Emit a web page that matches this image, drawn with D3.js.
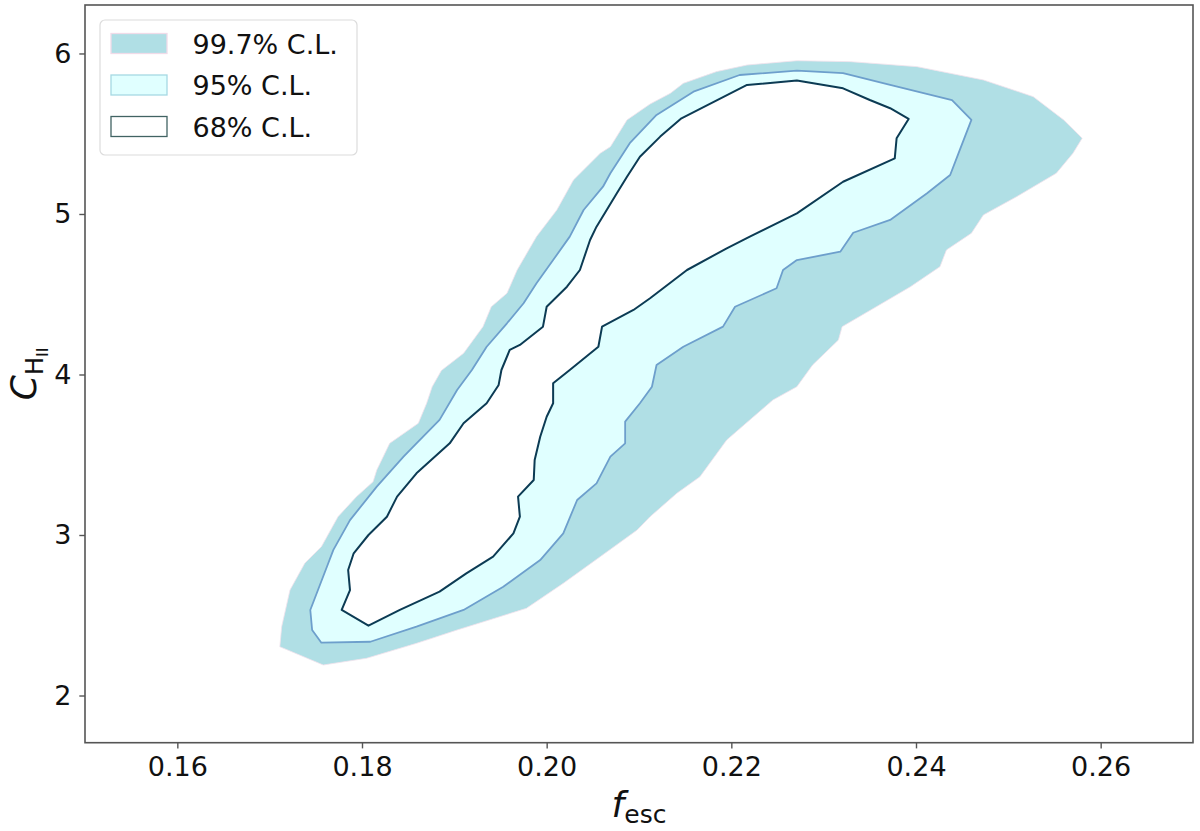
<!DOCTYPE html>
<html>
<head>
<meta charset="utf-8">
<script src="https://cdn.jsdelivr.net/npm/d3@7"></script>
<style>
    body { margin: 0; background: #ffffff; }
    svg text { font-family: "DejaVu Sans", sans-serif; }
</style>
</head>
<body>
<div id="chart"></div>
<script>

/* Data -------------------------------------------------------------------- */

// Axis ticks
const xTicks = [0.16, 0.18, 0.20, 0.22, 0.24, 0.26];
const yTicks = [2, 3, 4, 5, 6];

// Legend labels, outer to inner
const levelLabels = ["99.7% C.L.", "95% C.L.", "68% C.L."];

// 99.7% contour, [f_esc, C_HII]
const cl997 = [
    [0.1711, 2.304], [0.1713, 2.429], [0.1722, 2.657], [0.1738, 2.824],
    [0.1756, 2.927], [0.1774, 3.114], [0.1794, 3.239], [0.1812, 3.332],
    [0.1816, 3.405], [0.1830, 3.571], [0.1848, 3.644], [0.1861, 3.696],
    [0.1870, 3.821], [0.1876, 3.924], [0.1886, 4.025], [0.1910, 4.132],
    [0.1931, 4.298], [0.1940, 4.422], [0.1957, 4.506], [0.1968, 4.651],
    [0.1989, 4.859], [0.2011, 5.025], [0.2029, 5.212], [0.2058, 5.378],
    [0.2069, 5.419], [0.2087, 5.586], [0.2112, 5.685], [0.2134, 5.752],
    [0.2148, 5.814], [0.2184, 5.887], [0.2217, 5.928], [0.2271, 5.955],
    [0.2329, 5.949], [0.2401, 5.918], [0.2473, 5.835], [0.2527, 5.731],
    [0.2560, 5.586], [0.2580, 5.472], [0.2570, 5.378], [0.2552, 5.254],
    [0.2509, 5.108], [0.2473, 4.994], [0.2460, 4.880], [0.2433, 4.776],
    [0.2426, 4.672], [0.2394, 4.547], [0.2357, 4.422], [0.2320, 4.298],
    [0.2316, 4.215], [0.2288, 4.059], [0.2271, 3.924], [0.2245, 3.841],
    [0.2220, 3.717], [0.2195, 3.592], [0.2166, 3.363], [0.2141, 3.260],
    [0.2112, 3.114], [0.2098, 3.031], [0.2058, 2.865], [0.2018, 2.699],
    [0.1978, 2.543], [0.1903, 2.408], [0.1859, 2.325], [0.1805, 2.232],
    [0.1758, 2.190]
];

// 95% contour
const cl95 = [
    [0.1744, 2.533], [0.1762, 2.802], [0.1769, 2.907], [0.1787, 3.093],
    [0.1816, 3.301], [0.1845, 3.488], [0.1859, 3.571], [0.1884, 3.717],
    [0.1903, 3.903], [0.1919, 4.028], [0.1935, 4.173], [0.1957, 4.319],
    [0.1975, 4.444], [0.1989, 4.568], [0.2007, 4.713], [0.2025, 4.859],
    [0.2040, 5.025], [0.2061, 5.170], [0.2069, 5.254], [0.2090, 5.441],
    [0.2119, 5.617], [0.2159, 5.762], [0.2209, 5.866], [0.2271, 5.893],
    [0.2321, 5.877], [0.2372, 5.804], [0.2439, 5.710], [0.2460, 5.586],
    [0.2446, 5.378], [0.2437, 5.243], [0.2412, 5.129], [0.2372, 4.963],
    [0.2332, 4.883], [0.2318, 4.765], [0.2271, 4.713], [0.2256, 4.651],
    [0.2249, 4.537], [0.2204, 4.422], [0.2191, 4.298], [0.2148, 4.173],
    [0.2119, 4.059], [0.2114, 3.924], [0.2101, 3.821], [0.2085, 3.706],
    [0.2085, 3.571], [0.2069, 3.488], [0.2054, 3.322], [0.2033, 3.218],
    [0.2018, 3.010], [0.1993, 2.844], [0.1953, 2.678], [0.1910, 2.533],
    [0.1859, 2.429], [0.1809, 2.335], [0.1756, 2.329], [0.1746, 2.408]
];

// 68% contour
const cl68 = [
    [0.1778, 2.533], [0.1787, 2.657], [0.1785, 2.782], [0.1791, 2.886],
    [0.1807, 3.000], [0.1827, 3.114], [0.1838, 3.239], [0.1859, 3.384],
    [0.1895, 3.571], [0.1910, 3.696], [0.1935, 3.821], [0.1948, 3.935],
    [0.1951, 4.028], [0.1960, 4.153], [0.1971, 4.184], [0.1996, 4.298],
    [0.2000, 4.422], [0.2022, 4.547], [0.2036, 4.651], [0.2047, 4.838],
    [0.2054, 4.921], [0.2076, 5.129], [0.2087, 5.232], [0.2101, 5.357],
    [0.2123, 5.482], [0.2146, 5.596], [0.2217, 5.804], [0.2271, 5.831],
    [0.2321, 5.783], [0.2350, 5.710], [0.2372, 5.659], [0.2392, 5.592],
    [0.2379, 5.472], [0.2377, 5.347], [0.2321, 5.201], [0.2271, 5.004],
    [0.2220, 4.859], [0.2195, 4.786], [0.2152, 4.651], [0.2112, 4.475],
    [0.2094, 4.402], [0.2060, 4.298], [0.2056, 4.173], [0.2025, 4.028],
    [0.2007, 3.945], [0.2007, 3.821], [0.2000, 3.737], [0.1993, 3.612],
    [0.1987, 3.467], [0.1986, 3.343], [0.1969, 3.239], [0.1971, 3.114],
    [0.1964, 3.010], [0.1942, 2.865], [0.1913, 2.761], [0.1884, 2.647],
    [0.1841, 2.533], [0.1807, 2.435]
];

/* Settings ---------------------------------------------------------------- */

const settings = {
    width: 1200,
    height: 831,
    margin: { top: 5, right: 7, bottom: 88.3, left: 85 },
    xDomain: [0.15, 0.27],
    yDomain: [1.706, 6.302],
    tickSize: 27,
    labelSize: 36
};

const colors = {
    fill997: "#b0dfe5",
    fill95: "#e0ffff",
    line95: "#6d9fcc",
    line68: "#0c3b54",
    spine: "#555555",
    text: "#111111"
};

/* Draw graphic ------------------------------------------------------------ */

function drawGraphic() {

    const margin = settings.margin;
    const width = settings.width - margin.left - margin.right;
    const height = settings.height - margin.top - margin.bottom;

    const xScale = d3.scaleLinear()
        .domain(settings.xDomain)
        .range([0, width]);

    const yScale = d3.scaleLinear()
        .domain(settings.yDomain)
        .range([height, 0]);

    const svg = d3.select("#chart")
        .append("svg")
        .attr("width", settings.width)
        .attr("height", settings.height);

    svg.append("rect")
        .attr("width", settings.width)
        .attr("height", settings.height)
        .attr("fill", "#ffffff");

    const canvas = svg.append("g")
        .attr("transform", `translate(${margin.left},${margin.top})`);

    const contour = d3.line()
        .x(d => xScale(d[0]))
        .y(d => yScale(d[1]))
        .curve(d3.curveLinearClosed);

    // Contours, outer to inner
    canvas.append("path")
        .attr("d", contour(cl997))
        .attr("fill", colors.fill997)
        .attr("stroke", "#f1e2ec")
        .attr("stroke-width", 0.8);

    canvas.append("path")
        .attr("d", contour(cl95))
        .attr("fill", colors.fill95)
        .attr("stroke", colors.line95)
        .attr("stroke-width", 1.8)
        .attr("stroke-linejoin", "round");

    canvas.append("path")
        .attr("d", contour(cl68))
        .attr("fill", "#ffffff")
        .attr("stroke", colors.line68)
        .attr("stroke-width", 2)
        .attr("stroke-linejoin", "round");

    // Frame
    canvas.append("rect")
        .attr("width", width)
        .attr("height", height)
        .attr("fill", "none")
        .attr("stroke", colors.spine)
        .attr("stroke-width", 1.6);

    // X-axis
    const xAxis = canvas.append("g")
        .attr("class", "xaxis")
        .attr("transform", `translate(0,${height})`)
        .call(d3.axisBottom(xScale)
            .tickValues(xTicks)
            .tickFormat(d3.format(".2f"))
            .tickSize(5.7)
            .tickPadding(8));

    // Y-axis
    const yAxis = canvas.append("g")
        .attr("class", "yaxis")
        .call(d3.axisLeft(yScale)
            .tickValues(yTicks)
            .tickFormat(d3.format("d"))
            .tickSize(5.7)
            .tickPadding(8));

    for (const axis of [xAxis, yAxis]) {
        axis.select(".domain").remove();
        axis.selectAll("line")
            .attr("stroke", colors.spine)
            .attr("stroke-width", 1.4);
        axis.selectAll("text")
            .attr("fill", colors.text)
            .style("font-family", "DejaVu Sans")
            .style("font-size", `${settings.tickSize}px`);
    }

    // X-axis title: f_esc
    const xTitle = svg.append("text")
        .attr("x", margin.left + width / 2)
        .attr("y", 817)
        .attr("text-anchor", "middle")
        .attr("fill", colors.text)
        .style("font-size", `${settings.labelSize}px`);
    xTitle.append("tspan")
        .style("font-style", "italic")
        .text("f");
    xTitle.append("tspan")
        .attr("dy", 6)
        .style("font-size", "25px")
        .text("esc");

    // Y-axis title: C_{H_II}
    const yTitle = svg.append("text")
        .attr("transform", `translate(36,${margin.top + height / 2}) rotate(-90)`)
        .attr("text-anchor", "middle")
        .attr("fill", colors.text)
        .style("font-size", `${settings.labelSize}px`);
    yTitle.append("tspan")
        .style("font-style", "italic")
        .text("C");
    yTitle.append("tspan")
        .attr("dy", 7)
        .style("font-size", "24px")
        .text("H");
    yTitle.append("tspan")
        .attr("dy", 5)
        .style("font-size", "16px")
        .text("II");

    // Legend
    const legend = svg.append("g")
        .attr("transform", "translate(100,20)");

    legend.append("rect")
        .attr("width", 257)
        .attr("height", 135)
        .attr("rx", 5)
        .attr("fill", "#ffffff")
        .attr("fill-opacity", 0.85)
        .attr("stroke", "#dcdcdc")
        .attr("stroke-width", 1.2);

    const legendFill = ["#b0dfe5", "#e0ffff", "#ffffff"];
    const legendEdge = ["#f0dbe8", "#a6d9e3", "#416363"];

    const entry = legend.selectAll(".entry")
        .data(levelLabels)
        .enter()
        .append("g")
        .attr("class", "entry")
        .attr("transform", (d, i) => `translate(0,${23.5 + i * 41.5})`);

    entry.append("rect")
        .attr("x", 11)
        .attr("y", -10)
        .attr("width", 56)
        .attr("height", 20)
        .attr("fill", (d, i) => legendFill[i])
        .attr("stroke", (d, i) => legendEdge[i])
        .attr("stroke-width", 1.3);

    entry.append("text")
        .attr("x", 92.5)
        .attr("y", 10)
        .attr("fill", colors.text)
        .style("font-size", "27px")
        .text(d => d);
}

drawGraphic();

</script>
</body>
</html>
